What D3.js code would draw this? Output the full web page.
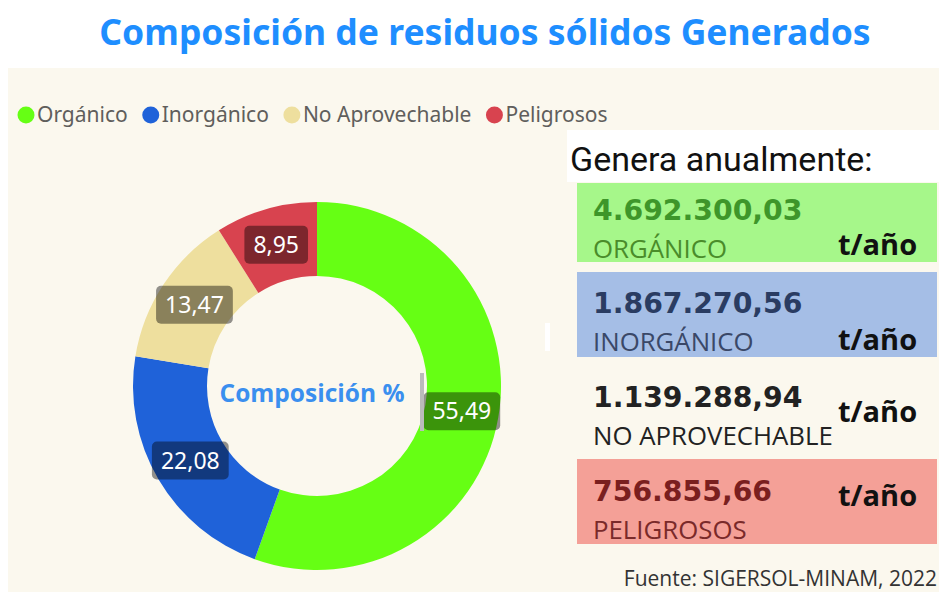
<!DOCTYPE html>
<html>
<head>
<meta charset="utf-8">
<script src="https://cdn.jsdelivr.net/npm/d3@7"></script>
<style>
  html, body { margin: 0; padding: 0; background: #ffffff; }
  svg { display: block; }
</style>
</head>
<body>
<script>
// ---- data ----
const categories = ["Orgánico", "Inorgánico", "No Aprovechable", "Peligrosos"];
const percentages = [55.49, 22.08, 13.47, 8.95];
const tonnesPerYear = [4692300.03, 1867270.56, 1139288.94, 756855.66];
const cardLabels = ["ORGÁNICO", "INORGÁNICO", "NO APROVECHABLE", "PELIGROSOS"];
const sliceColors = ["#66FF14", "#1F62D9", "#EEDF9E", "#D8434F"];
const cardFills = ["#A6F78A", "#A5BEE6", "none", "#F4A097"];
const cardValueColors = ["#3E962A", "#2A3C62", "#222222", "#7A1F1F"];
const cardLabelColors = ["#4A8C2A", "#3A4868", "#222222", "#7A2A2A"];
const titleText = "Composición de residuos sólidos Generados";
const centerText = "Composición %";
const sideTitle = "Genera anualmente:";
const unitText = "t/año";
const sourceText = "Fuente: SIGERSOL-MINAM, 2022";

const W = 939, H = 592;
const locale = d3.formatLocale({decimal: ",", thousands: ".", grouping: [3], currency: ["", ""]});
const fmtT = locale.format(",.2f");
const fmtP = locale.format(".2f");

const svg = d3.select("body").append("svg").attr("width", W).attr("height", H);

// background
svg.append("rect").attr("x", 0).attr("y", 0).attr("width", W).attr("height", H).attr("fill", "#ffffff");
svg.append("rect").attr("x", 8).attr("y", 68).attr("width", W - 8).attr("height", H - 68).attr("fill", "#FBF8EE");

// title
svg.append("text").attr("x", 485).attr("y", 45).attr("text-anchor", "middle")
  .attr("font-family", "Noto Sans").attr("font-weight", 700).attr("font-size", 35.5)
  .attr("fill", "#1E8EFF").text(titleText);

// legend
const legend = svg.append("g").attr("font-family", "Noto Sans").attr("font-size", 21).attr("fill", "#605E5C");
let lx = 26;
categories.forEach((c, i) => {
  legend.append("circle").attr("cx", lx).attr("cy", 115).attr("r", 8.5).attr("fill", sliceColors[i]);
  const t = legend.append("text").attr("x", lx + 11).attr("y", 122).text(c);
  lx += 11 + t.node().getComputedTextLength() + 23;
});

// donut
const cx = 317, cy = 386, rIn = 110, rOut = 184;
const pie = d3.pie().sort(null).value(d => d.v);
const arcs = pie(categories.map((c, i) => ({c, v: percentages[i], i})));
const arc = d3.arc().innerRadius(rIn).outerRadius(rOut);
const labelArc = d3.arc().innerRadius(147).outerRadius(147);
const g = svg.append("g").attr("transform", `translate(${cx},${cy})`);
g.selectAll("path.slice").data(arcs).join("path").attr("class", "slice")
  .attr("d", arc).attr("fill", d => sliceColors[d.data.i]);

g.append("text").attr("x", -5).attr("y", 16).attr("text-anchor", "middle")
  .attr("font-family", "Open Sans").attr("font-weight", 700).attr("font-size", 24.5)
  .attr("fill", "#3A8FEF").text(centerText);

// small artifacts from the source screenshot
svg.append("rect").attr("x", 420).attr("y", 373).attr("width", 4).attr("height", 58).attr("fill", "#BBBBBB");
svg.append("rect").attr("x", 545).attr("y", 323).attr("width", 5).attr("height", 28).attr("fill", "#ffffff");

const lab = g.selectAll("g.lab").data(arcs).join("g").attr("class", "lab")
  .attr("transform", d => `translate(${labelArc.centroid(d)})`);
lab.each(function(d) {
  const s = d3.select(this);
  const t = s.append("text").attr("text-anchor", "middle").attr("y", 8)
    .attr("font-family", "Noto Sans").attr("font-size", 23).attr("fill", "#ffffff")
    .text(fmtP(d.data.v));
  const w = t.node().getComputedTextLength() + 18;
  s.insert("rect", "text").attr("x", -w / 2).attr("y", -19).attr("width", w).attr("height", 38)
    .attr("rx", 5).attr("fill", "#000000").attr("fill-opacity", 0.42);
});

// right panel
svg.append("rect").attr("x", 567).attr("y", 130).attr("width", W - 567).attr("height", 52).attr("fill", "#ffffff");
svg.append("text").attr("x", 570).attr("y", 171)
  .attr("font-family", "Roboto").attr("font-size", 34).attr("fill", "#111111").text(sideTitle);

const cardTops = [183, 272, 364, 459];
const cardHeights = [79, 85, 85, 85];
const valueDy = [37, 41, 43, 42];
const labelDy = [75, 79, 81, 80];
const unitDy = [72, 78, 58, 47];
categories.forEach((c, i) => {
  const y0 = cardTops[i];
  if (cardFills[i] !== "none") {
    svg.append("rect").attr("x", 577).attr("y", y0).attr("width", 360).attr("height", cardHeights[i]).attr("fill", cardFills[i]);
  }
  svg.append("text").attr("x", 593).attr("y", y0 + valueDy[i])
    .attr("font-family", "DejaVu Sans").attr("font-weight", 700).attr("font-size", 28.3)
    .attr("fill", cardValueColors[i]).text(fmtT(tonnesPerYear[i]));
  svg.append("text").attr("x", 593).attr("y", y0 + labelDy[i])
    .attr("font-family", "Open Sans").attr("font-size", 25.8)
    .attr("fill", cardLabelColors[i]).text(cardLabels[i]);
  svg.append("text").attr("x", 838).attr("y", y0 + unitDy[i])
    .attr("font-family", "Open Sans").attr("font-weight", 700).attr("font-size", 29)
    .attr("fill", "#111111").text(unitText);
});

svg.append("text").attr("x", 937).attr("y", 586).attr("text-anchor", "end")
  .attr("font-family", "Open Sans").attr("font-size", 21).attr("fill", "#333333").text(sourceText);
</script>
</body>
</html>
